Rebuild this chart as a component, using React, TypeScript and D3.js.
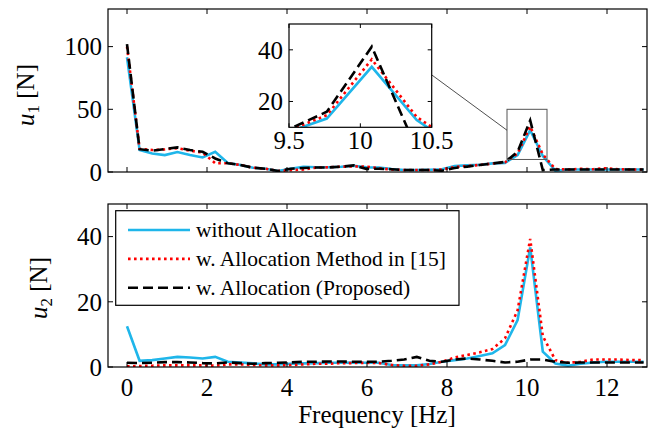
import React, { useEffect, useRef } from 'react';
import * as d3 from 'd3';

// frequency bins [Hz]
const freq = [0, 0.315, 0.63, 0.945, 1.26, 1.575, 1.89, 2.205, 2.52, 2.835, 3.15, 3.465, 3.78, 4.095, 4.41, 4.725, 5.04, 5.355, 5.67, 5.985, 6.3, 6.615, 6.93, 7.245, 7.56, 7.875, 8.19, 8.505, 8.82, 9.135, 9.45, 9.765, 10.08, 10.395, 10.71, 11.025, 11.34, 11.655, 11.97, 12.285, 12.6, 12.915];

// u1 [N]
const u1Without = [91.5, 17.5, 14.8, 13.5, 15.9, 13.5, 11.6, 16.1, 7.2, 5.6, 3.4, 2.6, 0.8, 2.6, 4.2, 3.8, 3.8, 4.2, 5.0, 3.8, 3.5, 2.4, 1.6, 1.6, 1.8, 2.2, 4.8, 5.3, 5.8, 6.9, 7.3, 13.4, 33.4, 12.8, 1.0, 2.0, 2.0, 2.0, 2.0, 2.0, 2.0, 2.0];
const u1Ref15 = [100, 18.5, 17.5, 18, 19, 17, 15.5, 7, 7, 5.6, 3.4, 2.6, 0.8, 1.5, 2, 3.5, 3.8, 4.2, 4.5, 4.3, 3, 2, 1.6, 1.6, 1.6, 2, 4, 4.8, 5.6, 6.8, 7.7, 14.7, 36.3, 14, 2.3, 2.0, 2.5, 2.2, 3, 2.2, 2.0, 2.0];
const u1Proposed = [102, 18.2, 17, 18.3, 19.6, 17.5, 16.1, 10.8, 7, 5.6, 3.4, 2.6, 0.8, 2.6, 3.2, 3.6, 3.6, 4.2, 5.3, 2.5, 2.6, 2.2, 1.6, 1.6, 1.6, 1.0, 3.2, 4.3, 5.6, 6.8, 8.0, 16, 41.2, 1.5, 2, 2, 2, 2, 2, 2, 2, 2];

// u2 [N]
const u2Without = [12.5, 1.9, 2.1, 2.6, 3.1, 2.9, 2.6, 3.1, 1.6, 1.4, 1.1, 0.8, 0.8, 1.0, 1.1, 1.2, 1.3, 1.3, 1.4, 1.3, 1.3, 0.6, 0.5, 0.5, 0.9, 1.6, 2.1, 2.6, 3.4, 4.2, 6.7, 14.4, 36.7, 4.7, 1.1, 0.4, 1.0, 1.4, 1.6, 1.6, 1.6, 1.6];
const u2Ref15 = [0.2, 0.3, 0.4, 0.5, 0.5, 0.5, 0.5, 0.4, 0.8, 0.8, 0.6, 0.5, 0.5, 0.6, 0.8, 1.0, 1.0, 1.2, 1.2, 1.3, 1.2, 0.6, 0.4, 0.4, 0.8, 1.6, 2.9, 3.7, 4.5, 5.5, 8.8, 17.4, 39.3, 9.5, 2.1, 1.3, 1.6, 2.3, 2.3, 2.3, 2.1, 2.1];
const u2Proposed = [1.3, 1.2, 1.3, 1.5, 1.5, 1.4, 1.2, 1.1, 1.4, 1.2, 1.0, 1.2, 1.3, 1.4, 1.6, 1.6, 1.7, 1.7, 1.6, 1.6, 1.6, 1.9, 2.3, 3.1, 1.9, 1.6, 2.3, 2.6, 2.3, 1.9, 1.4, 1.6, 2.3, 2.3, 1.6, 1.3, 1.4, 1.4, 1.4, 1.4, 1.4, 1.4];

const xTicks = [0, 2, 4, 6, 8, 10, 12];
const u1Ticks = [0, 50, 100];
const u2Ticks = [0, 20, 40];
const insetXTicks = [9.5, 10, 10.5];
const insetYTicks = [20, 40];
const legendLabels = ['without Allocation', 'w. Allocation Method in [15]', 'w. Allocation (Proposed)'];

const W = 660;
const H = 431;
const FONT = '"Liberation Serif", "Times New Roman", serif';

const styles = [
  { color: '#1fb6ea', dash: null as string | null, width: 2.6 },
  { color: '#ff0000', dash: '2.6 3.4', width: 2.6 },
  { color: '#000000', dash: '10 5', width: 2.6 },
];

function App() {
  const svgRef = useRef<SVGSVGElement>(null);

  useEffect(() => {
    const svg = d3.select(svgRef.current);
    svg.selectAll('*').remove();

    const left = 108, right = 647;
    const x = d3.scaleLinear().domain([-0.475, 13.0]).range([left, right]);
    const y1 = d3.scaleLinear().domain([0, 130]).range([172, 9]);
    const y2 = d3.scaleLinear().domain([0, 50]).range([367, 204]);

    const drawAxesFrame = (y: d3.ScaleLinear<number, number>) => {
      const [yb, yt] = y.range();
      const g = svg.append('g');
      g.append('rect')
        .attr('x', left).attr('y', yt)
        .attr('width', right - left).attr('height', yb - yt)
        .attr('fill', 'white').attr('stroke', 'none');
      return g;
    };

    const drawBox = (g: any, y: d3.ScaleLinear<number, number>, yTicks: number[], xLabels: boolean) => {
      const [yb, yt] = y.range();
      const tl = 5;
      g.append('rect')
        .attr('x', left).attr('y', yt)
        .attr('width', right - left).attr('height', yb - yt)
        .attr('fill', 'none').attr('stroke', '#000').attr('stroke-width', 1.2);
      xTicks.forEach(t => {
        g.append('line').attr('x1', x(t)).attr('x2', x(t)).attr('y1', yb).attr('y2', yb - tl).attr('stroke', '#000');
        g.append('line').attr('x1', x(t)).attr('x2', x(t)).attr('y1', yt).attr('y2', yt + tl).attr('stroke', '#000');
        if (xLabels) {
          g.append('text').attr('x', x(t)).attr('y', yb + 29)
            .attr('text-anchor', 'middle').attr('font-family', FONT).attr('font-size', 25)
            .text(t);
        }
      });
      yTicks.forEach(t => {
        g.append('line').attr('x1', left).attr('x2', left + tl).attr('y1', y(t)).attr('y2', y(t)).attr('stroke', '#000');
        g.append('line').attr('x1', right).attr('x2', right - tl).attr('y1', y(t)).attr('y2', y(t)).attr('stroke', '#000');
        g.append('text').attr('x', left - 6).attr('y', y(t)).attr('dy', '0.35em')
          .attr('text-anchor', 'end').attr('font-family', FONT).attr('font-size', 25)
          .text(t);
      });
    };

    const drawSeries = (g: any, xs: d3.ScaleLinear<number, number>, ys: d3.ScaleLinear<number, number>, series: number[][], clipId: string) => {
      series.forEach((vals, i) => {
        const line = d3.line<number>().x((_, j) => xs(freq[j])).y(d => ys(d));
        g.append('path')
          .attr('d', line(vals))
          .attr('fill', 'none')
          .attr('stroke', styles[i].color)
          .attr('stroke-width', styles[i].width)
          .attr('stroke-dasharray', styles[i].dash)
          .attr('clip-path', `url(#${clipId})`);
      });
    };

    const defs = svg.append('defs');
    const addClip = (id: string, x0: number, y0: number, w: number, h: number) => {
      defs.append('clipPath').attr('id', id).append('rect')
        .attr('x', x0).attr('y', y0).attr('width', w).attr('height', h);
    };
    addClip('clipTop', left, 9, right - left, 163);
    addClip('clipBot', left, 204, right - left, 163);

    // ---- top panel ----
    const gTop = drawAxesFrame(y1);
    drawSeries(gTop, x, y1, [u1Without, u1Ref15, u1Proposed], 'clipTop');
    drawBox(gTop, y1, u1Ticks, false);

    // zoom rectangle
    const zx0 = 9.5, zx1 = 10.5, zy0 = 10, zy1 = 50;
    gTop.append('rect')
      .attr('x', x(zx0)).attr('y', y1(zy1))
      .attr('width', x(zx1) - x(zx0)).attr('height', y1(zy0) - y1(zy1))
      .attr('fill', 'none').attr('stroke', '#555').attr('stroke-width', 1);

    // inset
    const ix = d3.scaleLinear().domain([zx0, zx1]).range([289, 431.7]);
    const iy = d3.scaleLinear().domain([zy0, zy1]).range([127.3, 24]);
    addClip('clipInset', 289, 24, 142.7, 103.3);

    gTop.append('line')
      .attr('x1', ix(zx1)).attr('y1', iy(30.3))
      .attr('x2', x(zx0)).attr('y2', y1(33.3))
      .attr('stroke', '#222').attr('stroke-width', 0.8);

    const gIn = svg.append('g');
    gIn.append('rect').attr('x', 289).attr('y', 24).attr('width', 142.7).attr('height', 103.3)
      .attr('fill', 'white');
    drawSeries(gIn, ix, iy, [u1Without, u1Ref15, u1Proposed], 'clipInset');
    gIn.append('rect').attr('x', 289).attr('y', 24).attr('width', 142.7).attr('height', 103.3)
      .attr('fill', 'none').attr('stroke', '#000').attr('stroke-width', 1.2);
    insetXTicks.forEach(t => {
      gIn.append('line').attr('x1', ix(t)).attr('x2', ix(t)).attr('y1', 127.3).attr('y2', 123.3).attr('stroke', '#000');
      gIn.append('line').attr('x1', ix(t)).attr('x2', ix(t)).attr('y1', 24).attr('y2', 28).attr('stroke', '#000');
      gIn.append('text').attr('x', ix(t)).attr('y', 149)
        .attr('text-anchor', 'middle').attr('font-family', FONT).attr('font-size', 25)
        .text(t);
    });
    insetYTicks.forEach(t => {
      gIn.append('line').attr('x1', 289).attr('x2', 293).attr('y1', iy(t)).attr('y2', iy(t)).attr('stroke', '#000');
      gIn.append('line').attr('x1', 431.7).attr('x2', 427.7).attr('y1', iy(t)).attr('y2', iy(t)).attr('stroke', '#000');
      gIn.append('text').attr('x', 283).attr('y', iy(t)).attr('dy', '0.35em')
        .attr('text-anchor', 'end').attr('font-family', FONT).attr('font-size', 25)
        .text(t);
    });

    // ---- bottom panel ----
    const gBot = drawAxesFrame(y2);
    drawSeries(gBot, x, y2, [u2Without, u2Ref15, u2Proposed], 'clipBot');
    drawBox(gBot, y2, u2Ticks, true);

    // legend
    const lg = svg.append('g');
    lg.append('rect').attr('x', 115.7).attr('y', 210.7).attr('width', 343.3).attr('height', 94.6)
      .attr('fill', 'white').attr('stroke', '#000').attr('stroke-width', 1.2);
    const legY = d3.scalePoint<number>().domain([0, 1, 2]).range([230, 287.7]);
    legendLabels.forEach((lab, i) => {
      lg.append('line').attr('x1', 128).attr('x2', 190).attr('y1', legY(i)!).attr('y2', legY(i)!)
        .attr('stroke', styles[i].color).attr('stroke-width', styles[i].width)
        .attr('stroke-dasharray', styles[i].dash);
      lg.append('text').attr('x', 196).attr('y', legY(i)!).attr('dy', '0.33em')
        .attr('font-family', FONT).attr('font-size', 21.5).text(lab);
    });

    // axis labels
    const yLab = (cx: number, cy: number, sub: string) => {
      const t = svg.append('text')
        .attr('transform', `translate(${cx},${cy}) rotate(-90)`)
        .attr('text-anchor', 'middle').attr('font-family', FONT).attr('font-size', 25);
      t.append('tspan').attr('font-style', 'italic').text('u');
      t.append('tspan').attr('font-size', 17).attr('dy', 5).text(sub);
      t.append('tspan').attr('dy', -5).text(' [N]');
    };
    yLab(34, 95, '1');
    yLab(47, 288, '2');

    svg.append('text').attr('x', 377).attr('y', 423)
      .attr('text-anchor', 'middle').attr('font-family', FONT).attr('font-size', 25)
      .text('Frequency [Hz]');
  }, []);

  return (
    <svg ref={svgRef} width={W} height={H}
      style={{ position: 'absolute', left: 0, top: 0, background: 'white' }} />
  );
}

export default App;
